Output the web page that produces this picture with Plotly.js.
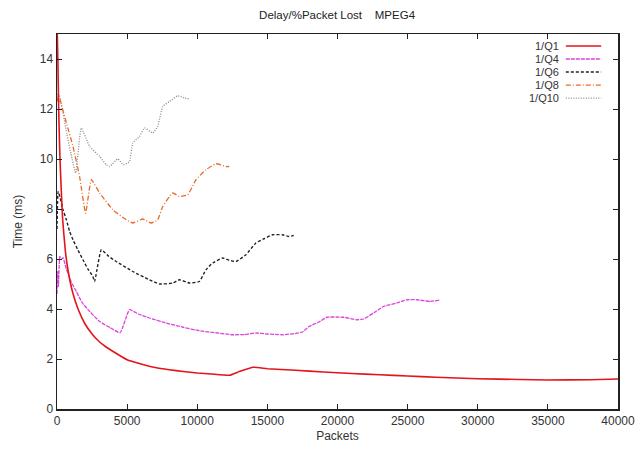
<!DOCTYPE html>
<html>
<head>
<meta charset="utf-8">
<script src="https://cdn.plot.ly/plotly-3.0.1.min.js"></script>
<style>html,body{margin:0;padding:0;background:#fff;}</style>
</head>
<body>
<div id="chart" style="width:636px;height:450px;"></div>
<script>
// ---- Data ----
const seriesNames = ["1/Q1", "1/Q4", "1/Q6", "1/Q8", "1/Q10"];

const q1X = [0, 60, 120, 200, 300, 400, 600, 800, 1100, 1500, 2000, 2500, 3000, 3500, 4000, 5000, 6000, 7000, 8000, 9000, 10000, 11000, 12300, 13000, 14000, 15000, 17000, 19000, 21000, 23000, 25000, 27000, 30000, 33000, 35000, 38000, 40000];
const q1Y = [15.5, 14.0, 12.0, 10.2, 8.8, 7.6, 6.3, 5.5, 4.7, 4.0, 3.4, 3.0, 2.7, 2.48, 2.3, 1.97, 1.8, 1.66, 1.57, 1.5, 1.44, 1.4, 1.35, 1.5, 1.67, 1.61, 1.55, 1.48, 1.42, 1.37, 1.32, 1.27, 1.21, 1.18, 1.16, 1.17, 1.2];

const q4X = [0, 50, 100, 200, 300, 430, 670, 1000, 1380, 1800, 2330, 3040, 3800, 4500, 5170, 5800, 6590, 7780, 9000, 10150, 11300, 12520, 13400, 14180, 15000, 16070, 17000, 17500, 17970, 18680, 19250, 20440, 21390, 21860, 22570, 23280, 24230, 24940, 25650, 26600, 27310];
const q4Y = [4.6, 5.5, 4.9, 6.1, 6.0, 6.05, 5.6, 5.1, 4.7, 4.25, 3.9, 3.5, 3.25, 3.05, 3.97, 3.8, 3.64, 3.44, 3.27, 3.13, 3.05, 2.97, 2.98, 3.04, 3.0, 2.97, 3.02, 3.08, 3.3, 3.48, 3.67, 3.67, 3.57, 3.6, 3.84, 4.1, 4.24, 4.37, 4.37, 4.3, 4.36];

const q6X = [0, 80, 200, 430, 670, 900, 1140, 1500, 1850, 2200, 2560, 2680, 3160, 3700, 4220, 5400, 6590, 7300, 8250, 8730, 9440, 10150, 10620, 11100, 11810, 12300, 12760, 13470, 14180, 14800, 15370, 16070, 16550, 17030];
const q6Y = [7.2, 8.7, 8.5, 7.97, 7.57, 7.1, 6.77, 6.35, 5.97, 5.6, 5.3, 5.1, 6.37, 6.1, 5.9, 5.5, 5.17, 5.0, 5.04, 5.17, 5.04, 5.1, 5.57, 5.84, 6.04, 5.95, 5.9, 6.17, 6.64, 6.82, 6.97, 6.97, 6.9, 6.97];

const q8X = [0, 150, 300, 670, 1140, 1610, 2040, 2450, 3040, 3980, 4935, 5400, 6120, 6710, 7180, 7540, 8250, 8730, 9320, 9910, 10620, 11340, 12050, 12280];
const q8Y = [12.3, 12.55, 12.2, 11.44, 10.5, 9.3, 7.84, 9.17, 8.64, 7.97, 7.57, 7.44, 7.6, 7.44, 7.57, 8.1, 8.64, 8.5, 8.57, 9.17, 9.57, 9.81, 9.7, 9.7];

const q10X = [0, 100, 300, 700, 1000, 1330, 1730, 2330, 3040, 3510, 3750, 4340, 4740, 5170, 5400, 5880, 6240, 6830, 7180, 7540, 8020, 8610, 9080, 9440];
const q10Y = [12.6, 12.4, 12.2, 11.0, 10.2, 9.44, 11.24, 10.5, 10.1, 9.77, 9.7, 10.0, 9.77, 9.9, 10.64, 10.9, 11.24, 11.04, 11.3, 12.1, 12.3, 12.53, 12.44, 12.4];

const xTicks = [0, 5000, 10000, 15000, 20000, 25000, 30000, 35000, 40000];
const yTicks = [0, 2, 4, 6, 8, 10, 12, 14];

// ---- Styles ----
const colors = ["#e3141b", "#dc44dc", "#222222", "#ea6a2a", "#8a8a8a"];
const dashes = ["solid", "4px,1px", "3px,2px", "5px,2px,1px,2px", "1px,1.5px"];
const widths = [1.6, 1.3, 1.4, 1.3, 1.3];

const xs = [q1X, q4X, q6X, q8X, q10X];
const ys = [q1Y, q4Y, q6Y, q8Y, q10Y];

const traces = [];
for (let i = seriesNames.length - 1; i >= 0; i--) {
  traces.push({
    x: xs[i], y: ys[i], name: seriesNames[i], type: "scatter", mode: "lines",
    line: {color: colors[i], dash: dashes[i], width: widths[i], shape: "spline", smoothing: 0.4},
    showlegend: false
  });
}

// custom gnuplot-style legend: text on the left, sample on the right
const annotations = [];
const shapes = [];
const legTop = 0.968, legStep = 0.0347;
const fam = "Liberation Sans, Arial, sans-serif";
for (let i = 0; i < seriesNames.length; i++) {
  const yy = legTop - i * legStep;
  annotations.push({
    xref: "paper", yref: "paper", x: 0.894, y: yy, xanchor: "right", yanchor: "middle",
    borderpad: 0, borderwidth: 0,
    text: seriesNames[i], showarrow: false, font: {family: fam, size: 11, color: "#333"}
  });
  shapes.push({
    type: "line", xref: "paper", yref: "paper", x0: 0.907, x1: 0.97, y0: yy, y1: yy,
    line: {color: colors[i], dash: dashes[i], width: widths[i]}
  });
}

const font = {family: fam, size: 12, color: "#333"};
const axisCommon = {
  showline: true, linecolor: "#222", linewidth: 1.5, mirror: "ticks",
  ticks: "inside", ticklen: 5, tickcolor: "#222", tickwidth: 1,
  showgrid: false, zeroline: false, tickfont: font
};

const layout = {
  width: 636, height: 450,
  margin: {l: 57, r: 18, t: 34, b: 41},
  paper_bgcolor: "#fff", plot_bgcolor: "#fff",
  font: font,
  title: {text: "Delay/%Packet Lost\u00a0\u00a0\u00a0\u00a0MPEG4", x: 0.53, xanchor: "center", y: 0.967, yanchor: "middle",
          font: {family: fam, size: 11.5, color: "#222"}},
  xaxis: Object.assign({}, axisCommon, {
    range: [0, 40000], tickvals: xTicks, ticktext: xTicks.map(String),
    title: {text: "Packets", font: {family: fam, size: 12, color: "#333"}, standoff: 4}
  }),
  yaxis: Object.assign({}, axisCommon, {
    range: [0, 15], tickvals: yTicks, ticktext: yTicks.map(String),
    title: {text: "Time (ms)", font: {family: fam, size: 12, color: "#333"}, standoff: 14}
  }),
  showlegend: false,
  annotations: annotations,
  shapes: shapes
};

Plotly.newPlot("chart", traces, layout, {displayModeBar: false, staticPlot: true});
</script>
</body>
</html>
